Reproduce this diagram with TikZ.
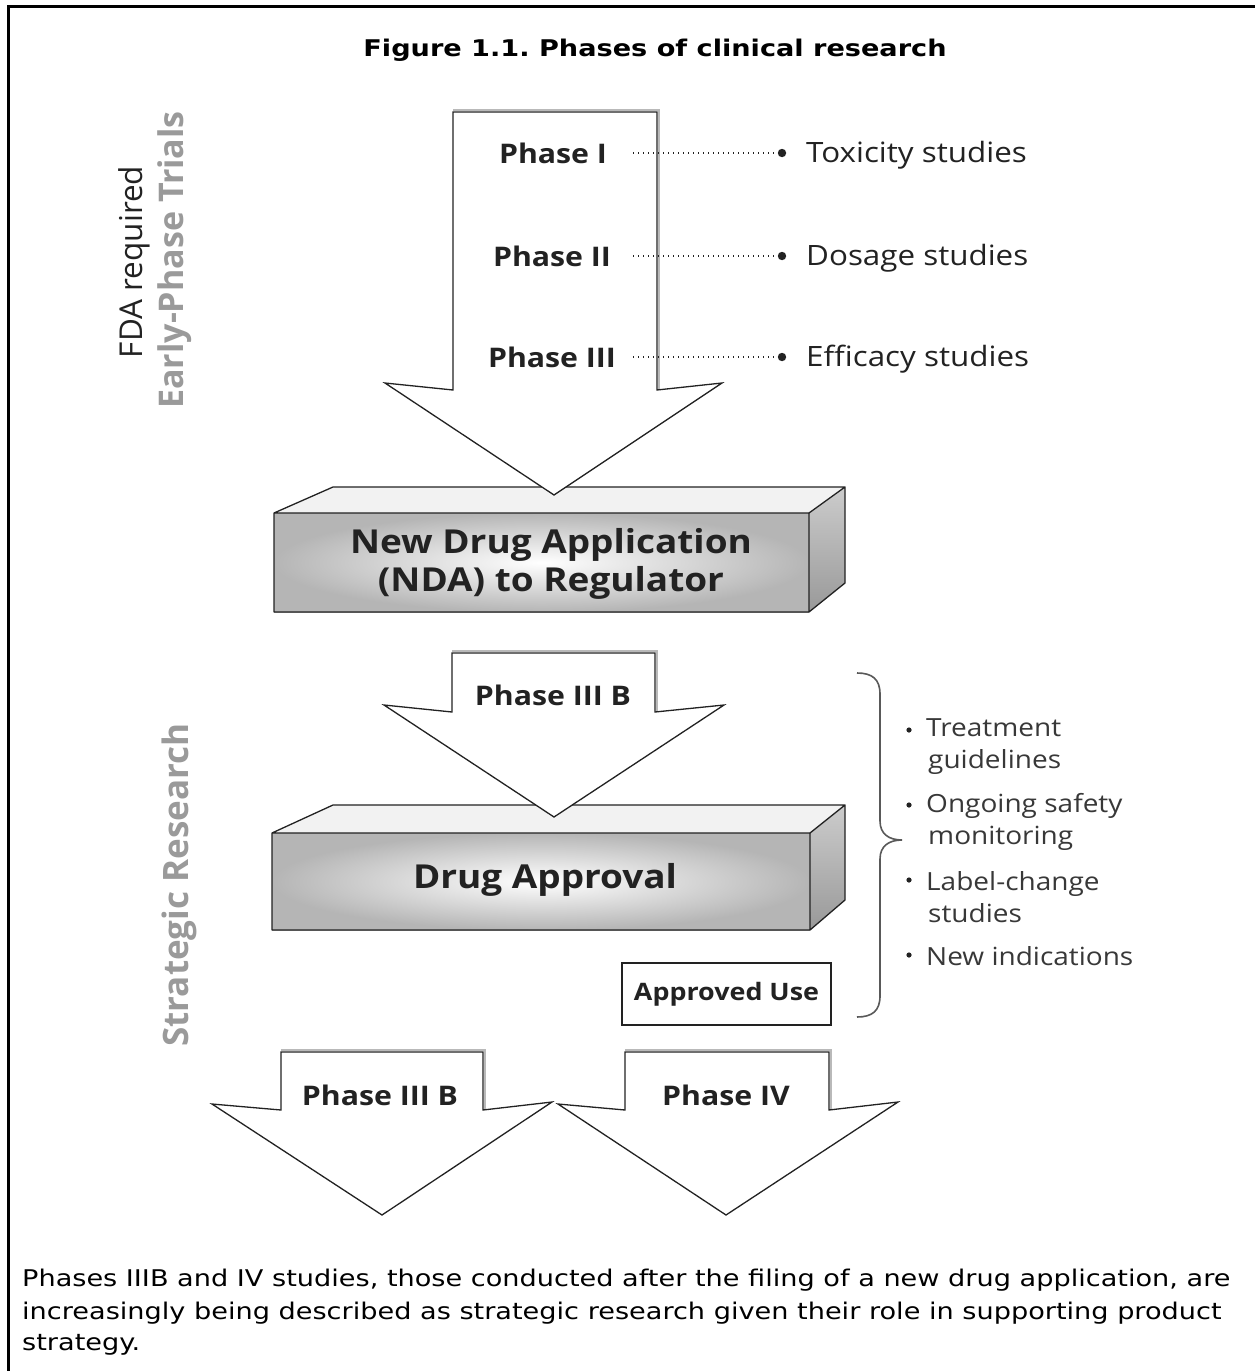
\documentclass[tikz,border=0pt]{standalone}
\usepackage{fontspec}
\setmainfont[FakeStretch=1.18]{DejaVu Sans}
\newfontfamily\lab[FakeStretch=1.12]{Open Sans}
\newfontfamily\labr{Open Sans}
\usetikzlibrary{shadings}
\definecolor{ink}{HTML}{222222}
\definecolor{sidegray}{HTML}{9A9A9A}
\tikzset{
  arr/.style={draw=ink, line width=1.3pt, fill=white, line join=miter},
  arrshadow/.style={draw=gray!55, line width=2.2pt},
  phaselab/.style={font=\lab\bfseries\fontsize{27}{30}\selectfont, text=ink, inner sep=0pt},
  studylab/.style={font=\lab\fontsize{28}{30}\selectfont, text=ink, anchor=west, inner sep=0pt},
  dotline/.style={draw=ink, line width=1.3pt, dash pattern=on 1.3pt off 3.7pt},
  boxtext/.style={font=\lab\bfseries\fontsize{33}{38}\selectfont, text=ink, align=center, inner sep=0pt},
  bullettext/.style={font=\lab\fontsize{25}{32}\selectfont, text=ink!90, anchor=west, align=left, inner sep=0pt},
  sidelab/.style={text=sidegray, rotate=90, inner sep=0pt},
  footer/.style={font=\frenchspacing\fontsize{23}{33}\selectfont, anchor=west, inner sep=0pt}
}
\begin{document}
\begin{tikzpicture}[x=1pt,y=-1pt]
\useasboundingbox[fill=white] (0,0) rectangle (1254,1371);
% frame
\draw[line width=3pt, line cap=rect] (8,1371) -- (8,6) -- (1254,6);

% title
\node[font=\frenchspacing\bfseries\fontsize{23}{26}\selectfont, inner sep=0pt] (title) at (655,50) {Figure 1.1. Phases of clinical research};

% side labels
\node[font=\labr\fontsize{31.5}{34}\selectfont, text=ink, rotate=90, inner sep=0pt] (fda) at (134,262) {FDA required};
\node[sidelab, font=\labr\bfseries\fontsize{34}{38}\selectfont] (early) at (175,260) {Early-Phase Trials};
\node[sidelab, font=\labr\bfseries\fontsize{35}{38}\selectfont] (strat) at (179,885) {Strategic Research};

% ---------- NDA box ----------
\fill[gray!10] (274,513) -- (333,487) -- (845,487) -- (809,513) -- cycle;
\shade[top color=gray!40, bottom color=gray!80] (809,513) -- (845,487) -- (845,583) -- (809,612) -- cycle;
\shade[inner color=white, outer color=gray!58] (274,513) rectangle (809,612);
\draw[ink, line width=1.3pt, line join=round] (274,513) -- (333,487) -- (845,487) -- (809,513) -- cycle
  (809,513) -- (845,487) -- (845,583) -- (809,612) (274,513) rectangle (809,612);
\node[boxtext] (nda) at (551,564) {New Drug Application\\(NDA) to Regulator};

% ---------- Drug approval box ----------
\fill[gray!10] (272,833) -- (333,805) -- (845,805) -- (810,833) -- cycle;
\shade[top color=gray!40, bottom color=gray!80] (810,833) -- (845,805) -- (845,900) -- (810,930) -- cycle;
\shade[inner color=white, outer color=gray!58] (272,833) rectangle (810,930);
\draw[ink, line width=1.3pt, line join=round] (272,833) -- (333,805) -- (845,805) -- (810,833) -- cycle
  (810,833) -- (845,805) -- (845,900) -- (810,930) (272,833) rectangle (810,930);
\node[boxtext] (appr) at (545,880) {Drug Approval};

% ---------- Arrow 1 (early phases) ----------
\draw[arrshadow] (453,110) -- (659,110) -- (659,390);
\draw[arr] (453,112) -- (657,112) -- (657,390) -- (722,383) -- (554,495) -- (385,383) -- (453,390) -- cycle;
\node[phaselab] (p1) at (553,153) {Phase I};
\node[phaselab] (p2) at (552,256) {Phase II};
\node[phaselab] (p3) at (552,357) {Phase III};

\coordinate (s1) at (633,153); \coordinate (d1) at (782,153);
\coordinate (s2) at (633,256); \coordinate (d2) at (782,256);
\coordinate (s3) at (633,357); \coordinate (d3) at (782,357);
\foreach \i in {1,2,3}{
  \draw[dotline] (s\i) -- (d\i);
  \fill[ink] (d\i) circle (4.2pt);
}
\node[studylab] (t1) at (806,155) {Toxicity studies};
\node[studylab] (t2) at (806,258) {Dosage studies};
\node[studylab] (t3) at (806,359) {Efficacy studies};

% ---------- Arrow 2 (Phase III B) ----------
\draw[arrshadow] (452,651) -- (657,651) -- (657,712);
\draw[arr] (452,653) -- (655,653) -- (655,712) -- (724,705) -- (554,817) -- (384,705) -- (452,712) -- cycle;
\node[phaselab] (p3b) at (553,695) {Phase III B};

% ---------- Approved use ----------
\node[draw=ink, line width=1.3pt, minimum width=209pt, minimum height=62pt, inner sep=0pt,
      font=\lab\bfseries\fontsize{24}{25}\selectfont, text=ink] (use) at (726.5,994) {Approved Use};

% ---------- brace + bullets ----------
\draw[gray!70!black, line width=1.6pt]
  (857,673) .. controls (872,673) and (880,679) .. (880,694) -- (880,821)
  .. controls (880,834) and (889,840) .. (902,840)
  .. controls (889,840) and (880,846) .. (880,859) -- (880,996)
  .. controls (880,1011) and (872,1017) .. (857,1017);
\foreach \y in {730,805,880,955}{\fill[ink] (909,\y) circle (2.6pt);}
\node[bullettext] (b1) at (926,747) {Treatment\\\hspace*{2pt}guidelines};
\node[bullettext] (b2) at (926,822) {Ongoing safety\\\hspace*{2pt}monitoring};
\node[bullettext] (b3) at (926,897) {Label-change\\\hspace*{2pt}studies};
\node[bullettext] (b4) at (926,956) {New indications};

% ---------- bottom arrows ----------
\draw[arrshadow] (281,1050) -- (485,1050) -- (485,1110);
\draw[arr] (281,1052) -- (483,1052) -- (483,1110) -- (552,1102) -- (382,1215) -- (212,1104) -- (281,1110) -- cycle;
\node[phaselab] (p3b2) at (380,1095) {Phase III B};
\draw[arrshadow] (625,1050) -- (831,1050) -- (831,1110);
\draw[arr] (625,1052) -- (829,1052) -- (829,1110) -- (898,1102) -- (726,1215) -- (558,1104) -- (625,1110) -- cycle;
\node[phaselab] (p4) at (726,1095) {Phase IV};

% ---------- footer ----------
\node[footer] (f1) at (22,1280) {Phases IIIB and IV studies, those conducted after the filing of a new drug application, are};
\node[footer] (f2) at (22,1313) {increasingly being described as strategic research given their role in supporting product};
\node[footer] (f3) at (22,1345) {strategy.};
\end{tikzpicture}
\end{document}
